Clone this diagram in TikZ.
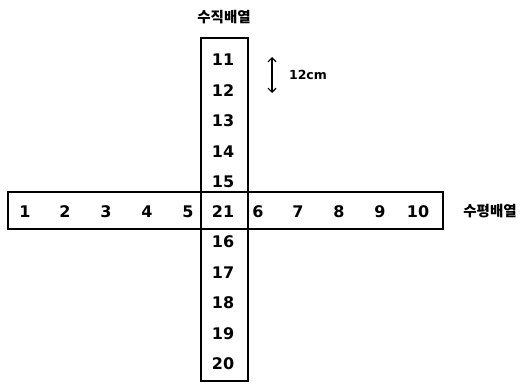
\documentclass[tikz,border=0pt]{standalone}
\usepackage{fontspec}
\setmainfont{DejaVu Sans}
\newfontfamily\kr{Noto Sans CJK KR}
\usetikzlibrary{arrows.meta}
\begin{document}
\begin{tikzpicture}[x=1pt,y=-1pt,
  num/.style={font=\fontsize{16}{16}\selectfont\bfseries, inner sep=0pt},
  lbl/.style={font=\kr\fontsize{14.5}{14.5}\selectfont\bfseries, inner sep=0pt},
  box/.style={draw, line width=1.9pt},
  tip/.style={Straight Barb[length=4pt,width=8pt,line width=1.1pt]}]
\useasboundingbox (0,0) rectangle (527,383);
\node[box, minimum width=47pt, minimum height=343pt] (vbox) at (224.5,209.5) {};
\node[box, minimum width=435pt, minimum height=37pt] (hbox) at (225.5,210.5) {};
\foreach \n/\x in {1/25,2/65,3/106,4/147,5/188,6/258,7/298,8/339,9/380,10/418}
  \node[num] (h\n) at (\x,211.5) {\n};
\node[num] (c21) at (223,211.5) {21};
\foreach \n/\y in {11/60,12/91,13/121,14/152,15/182,16/242,17/273,18/303,19/334,20/364}
  \node[num] (v\n) at (223,\y) {\n};
\node[lbl] (vlabel) at (224,17) {수직배열};
\node[lbl] (hlabel) at (490,211) {수평배열};
\coordinate (atop) at (272,57);
\coordinate (abot) at (272,93);
\draw[{Straight Barb[length=4pt,width=8pt]}-{Straight Barb[length=4pt,width=8pt]}, line width=1.2pt] (atop) -- (abot);
\node[font=\fontsize{12.5}{12.5}\selectfont\bfseries, inner sep=0pt] (len) at (308,75) {12cm};
\end{tikzpicture}
\end{document}
